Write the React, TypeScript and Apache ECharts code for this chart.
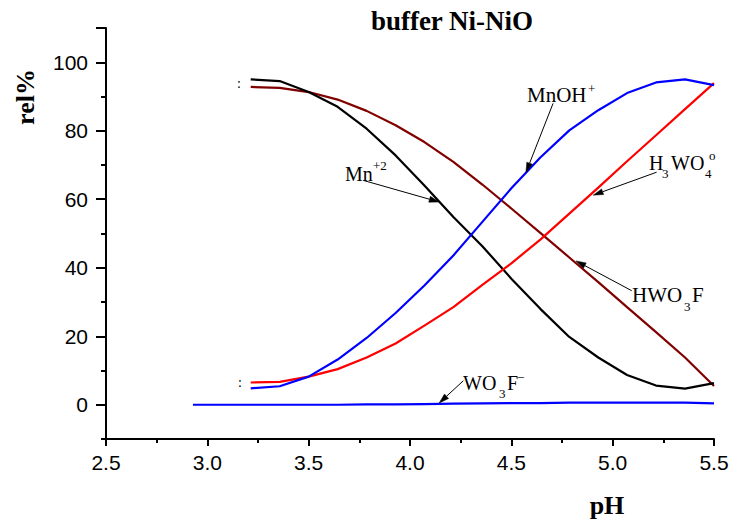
import React, { useEffect, useRef } from "react";
import * as echarts from "echarts";

// pH grid of the four main species
const pH = [3.214, 3.357, 3.5, 3.643, 3.786, 3.929, 4.071, 4.214, 4.357, 4.5, 4.643, 4.786, 4.929, 5.071, 5.214, 5.357, 5.5];
const mn2 = [95.0, 94.5, 91.3, 87.0, 80.6, 72.8, 64.0, 54.8, 46.3, 36.8, 28.0, 19.8, 13.8, 8.7, 5.6, 4.7, 6.3];
const hwo3f = [92.8, 92.5, 91.3, 89.1, 85.8, 81.6, 76.7, 70.9, 64.3, 57.3, 50.2, 43.0, 35.8, 28.5, 21.2, 13.8, 5.5];
const mnoh = [4.8, 5.4, 8.2, 13.2, 19.5, 26.8, 34.8, 43.6, 53.4, 63.2, 72.2, 80.1, 86.0, 91.0, 94.1, 95.0, 93.3];
const h3wo4 = [6.5, 6.7, 8.2, 10.4, 13.8, 17.9, 23.1, 28.5, 35.0, 41.3, 48.2, 55.8, 63.4, 71.1, 78.7, 86.3, 93.9];

// WO3F- on a wider pH grid
const pHWide = [2.929, 3.071, 3.214, 3.357, 3.5, 3.643, 3.786, 3.929, 4.071, 4.214, 4.357, 4.5, 4.643, 4.786, 4.929, 5.071, 5.214, 5.357, 5.5];
const wo3f = [0, 0, 0, 0, 0, 0, 0.1, 0.1, 0.2, 0.3, 0.4, 0.5, 0.5, 0.6, 0.6, 0.6, 0.6, 0.6, 0.4];

// axis ticks
const xMin = 2.5;
const xMax = 5.5;
const xStep = 0.5;
const yMin = -10;
const yMax = 110;
const yMajor = [0, 20, 40, 60, 80, 100];
const yMajorTicks = [0, 20, 40, 60, 80, 100, 110];
const yMinorTicks = [-10, 10, 30, 50, 70, 90];

// annotation arrows in data units: [fromPH, fromVal, toPH, toVal]
const arrows = [
  [3.77, 65.5, 4.144, 59.2],
  [4.706, 88.0, 4.572, 67.8],
  [5.217, 67.9, 4.904, 61.2],
  [5.094, 33.3, 4.819, 42.0],
  [4.263, 7.0, 4.144, 0.5],
];

const zip = (xs: number[], ys: number[]) => xs.map((x, i) => [x, ys[i]]);

const SERIF = '"Liberation Serif", "Times New Roman", serif';
const SANS = '"Liberation Sans", Arial, sans-serif';

function txt(text: string, x: number, y: number, size: number, extra: any = {}) {
  return {
    type: "text",
    x,
    y,
    silent: true,
    style: {
      text,
      fontSize: size,
      fontFamily: SERIF,
      fill: "#000",
      verticalAlign: "middle",
      textAlign: "left",
      ...extra,
    },
  };
}

export default function App() {
  const ref = useRef<HTMLDivElement>(null);
  useEffect(() => {
    document.body.style.margin = "0";
    if (!ref.current) return;
    const chart = echarts.init(ref.current, null, { renderer: "svg" });
    const lineSeries = (name: string, xs: number[], ys: number[], color: string, z: number) => ({
      name,
      type: "line",
      data: zip(xs, ys),
      showSymbol: false,
      symbol: "none",
      z,
      lineStyle: { color, width: 2.2 },
      itemStyle: { color },
    });
    const option: any = {
      animation: false,
      backgroundColor: "#fff",
      grid: { left: 106, right: 20, top: 28, bottom: 81, containLabel: false },
      xAxis: {
        type: "value",
        min: xMin,
        max: xMax,
        interval: xStep,
        axisLine: { show: true, onZero: false, lineStyle: { color: "#000", width: 2 } },
        axisTick: { show: true, length: 7, lineStyle: { color: "#000", width: 2 } },
        minorTick: { show: true, splitNumber: 2, length: 4, lineStyle: { color: "#000", width: 2 } },
        axisLabel: {
          color: "#000",
          fontSize: 21,
          fontFamily: SANS,
          margin: 13,
          formatter: (v: number) => v.toFixed(1),
        },
        splitLine: { show: false },
        minorSplitLine: { show: false },
      },
      yAxis: [
        {
          type: "value",
          min: yMin,
          max: yMax,
          position: "left",
          axisLine: { show: true, onZero: false, lineStyle: { color: "#000", width: 2 } },
          axisTick: { show: true, length: 10, customValues: yMajorTicks, lineStyle: { color: "#000", width: 2 } },
          axisLabel: { color: "#000", fontSize: 21, fontFamily: SANS, margin: 18, customValues: yMajor },
          splitLine: { show: false },
        },
        {
          type: "value",
          min: yMin,
          max: yMax,
          position: "left",
          offset: 0,
          axisLine: { show: false },
          axisTick: { show: true, length: 5, customValues: yMinorTicks, lineStyle: { color: "#000", width: 2 } },
          axisLabel: { show: false },
          splitLine: { show: false },
        },
      ],
      series: [
        lineSeries("WO3F-", pHWide, wo3f, "#0000ff", 2),
        lineSeries("HWO3F", pH, hwo3f, "#800000", 2),
        lineSeries("Mn+2", pH, mn2, "#000000", 3),
        lineSeries("H3WO4o", pH, h3wo4, "#ff0000", 3),
        lineSeries("MnOH+", pH, mnoh, "#0000ff", 4),
      ],
    };
    chart.setOption(option);

    // arrows, drawn through the chart's own coordinate conversion
    const arrowEls: any[] = [];
    arrows.forEach((a) => {
      const p0 = chart.convertToPixel({ gridIndex: 0 }, [a[0], a[1]]) as number[];
      const p1 = chart.convertToPixel({ gridIndex: 0 }, [a[2], a[3]]) as number[];
      const dx = p1[0] - p0[0];
      const dy = p1[1] - p0[1];
      const len = Math.sqrt(dx * dx + dy * dy) || 1;
      const ux = dx / len;
      const uy = dy / len;
      const headL = 10;
      const headW = 3;
      const bx = p1[0] - ux * headL;
      const by = p1[1] - uy * headL;
      arrowEls.push({
        type: "line",
        silent: true,
        z: 50,
        shape: { x1: p0[0], y1: p0[1], x2: bx, y2: by },
        style: { stroke: "#000", lineWidth: 1 },
      });
      arrowEls.push({
        type: "polygon",
        silent: true,
        z: 50,
        shape: {
          points: [
            [p1[0], p1[1]],
            [bx - uy * headW, by + ux * headW],
            [bx + uy * headW, by - ux * headW],
          ],
        },
        style: { fill: "#000", stroke: "#000", lineWidth: 0.5 },
      });
    });

    chart.setOption({
      graphic: [
        txt("buffer Ni-NiO", 452, 21, 27, { fontWeight: "bold", textAlign: "center" }),
        {
          type: "text",
          x: 25,
          y: 97,
          rotation: Math.PI / 2,
          silent: true,
          style: { text: "rel%", fontSize: 26, fontWeight: "bold", fontFamily: SERIF, fill: "#000", textAlign: "center", verticalAlign: "middle" },
        },
        txt("pH", 607, 505, 26, { fontWeight: "bold", textAlign: "center" }),
        txt(":", 237, 83, 14),
        txt(":", 238, 382, 14),
        // Mn+2
        txt("Mn", 345, 174, 20),
        txt("+2", 373, 165, 13),
        // MnOH+
        txt("MnOH", 527, 95, 21),
        txt("+", 588, 88, 13),
        // H3WO4o
        txt("H", 649, 163, 20),
        txt("3", 662, 173, 13),
        txt("WO", 671, 163, 20),
        txt("4", 705, 173, 13),
        txt("o", 709, 155, 13),
        // HWO3F
        txt("HWO", 632, 295, 21),
        txt("3", 684, 306, 13),
        txt("F", 692, 295, 21),
        // WO3F-
        txt("WO", 463, 383, 20),
        txt("3", 499, 393, 13),
        txt("F", 507, 383, 20),
        txt("\u2212", 517, 377, 13),
        ...arrowEls,
      ],
    });
    return () => chart.dispose();
  }, []);
  return <div ref={ref} style={{ width: 734, height: 520 }} />;
}
